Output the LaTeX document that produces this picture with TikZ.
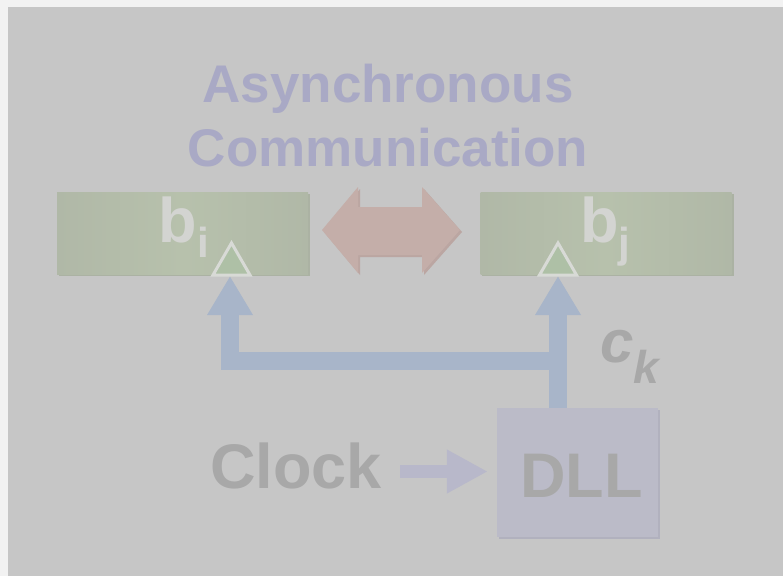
\documentclass[tikz,border=0pt]{standalone}
\usepackage{fontspec}
\setmainfont{Liberation Sans}
\usetikzlibrary{arrows.meta}

\definecolor{pagebg}{HTML}{F2F2F2}
\definecolor{slidebg}{HTML}{C6C6C6}
\definecolor{titlecol}{HTML}{A9A9C5}
\definecolor{boxedge}{HTML}{B0B8A7}
\definecolor{boxmid}{HTML}{B7C1AC}
\definecolor{boxshadow}{HTML}{ABB2A3}
\definecolor{blabel}{HTML}{D3D4D1}
\definecolor{trifill}{HTML}{AEC0A6}
\definecolor{triline}{HTML}{D8DAD6}
\definecolor{commcol}{HTML}{C4AEA9}
\definecolor{commshadow}{HTML}{BBA6A2}
\definecolor{clkcol}{HTML}{A8B5C9}
\definecolor{graytext}{HTML}{A8A8A8}
\definecolor{dllfill}{HTML}{BBBBC8}
\definecolor{dllshadow}{HTML}{B1B1BE}
\definecolor{feedcol}{HTML}{B8B8CA}

\tikzset{
  blockbox/.style={rectangle, inner sep=0pt, minimum width=251pt, minimum height=82pt,
    left color=boxedge, right color=boxedge, middle color=boxmid},
  titletext/.style={anchor=base, inner sep=0pt, text=titlecol,
    font=\fontsize{53}{53}\selectfont\bfseries},
  bigtext/.style={anchor=base west, inner sep=0pt, text=graytext,
    font=\fontsize{63}{63}\selectfont\bfseries},
  blocklabel/.style={anchor=base west, inner sep=0pt, text=blabel,
    font=\fontsize{63}{63}\selectfont\bfseries},
  sublabel/.style={anchor=base west, inner sep=0pt, text=blabel,
    font=\fontsize{42}{42}\selectfont\bfseries},
  marker/.style={fill=trifill, draw=triline, line width=3pt, line join=miter},
  clockline/.style={draw=clkcol, line width=18.5pt,
    -{Triangle[width=43pt,length=39pt]}},
}

\begin{document}
\begin{tikzpicture}[x=1pt, y=-1pt]
  % page and slide background
  \fill[pagebg] (0,0) rectangle (783,576);
  \fill[slidebg] (8,7) rectangle (783,576);
  \useasboundingbox (0,0) rectangle (783,576);

  % title
  \node[titletext] (title1) at (388,102) {Asynchronous};
  \node[titletext] (title2) at (388,166) {Communication};

  % the two blocks
  \fill[boxshadow] (59,194) rectangle (310,276);
  \fill[boxshadow] (482,194) rectangle (734,276);
  \node[blockbox] (bi) at (182.5,233) {};
  \node[blockbox] (bj) at (606,233) {};
  \node[blocklabel] (bilab) at (158,242) {b};
  \node[sublabel] (bisub) at (197,257) {i};
  \node[blocklabel] (bjlab) at (580,242) {b};
  \node[sublabel] (bjsub) at (618.5,257) {j};

  % asynchronous link between the blocks
  \fill[commshadow] (324,232) -- (360,189) -- (360,209) -- (424,209) -- (424,189)
    -- (462,232) -- (424,275) -- (424,257) -- (360,257) -- (360,275) -- cycle;
  \fill[commcol] (322,230) -- (358,187) -- (358,207) -- (422,207) -- (422,187)
    -- (460,230) -- (422,273) -- (422,255) -- (358,255) -- (358,273) -- cycle;

  % clock inputs of the blocks
  \coordinate (ti) at (230,276);
  \coordinate (tj) at (558,276);
  \draw[marker] (231.5,243) -- (250,275) -- (213,275) -- cycle;
  \draw[marker] (558,243) -- (576.5,275) -- (539.5,275) -- cycle;

  % DLL and its clock source
  \fill[dllshadow] (499,410) rectangle (660,539);
  \node[rectangle, inner sep=0pt, fill=dllfill, minimum width=161pt,
        minimum height=129pt] (dll) at (577.5,472.5) {};
  \node[bigtext] (dlltext) at (520,497) {DLL};
  \node[bigtext] (clock) at (210,488) {Clock};
  \coordinate (clkout) at (400,471.5);
  \draw[draw=feedcol, line width=13pt, shorten >=9pt,
        -{Triangle[width=41pt,length=41pt]}] (clkout) -- (dll.west |- clkout);

  % distributed clock c_k
  \coordinate (split) at (557.5,361);
  \draw[clockline] (split) -- (ti |- split) -- (ti);
  \draw[clockline] (dll.north -| tj) -- (tj);

  \node[anchor=base west, inner sep=0pt, text=graytext,
        font=\fontsize{60}{60}\selectfont\bfseries\itshape] (ck) at (600,362) {c};
  \node[anchor=base west, inner sep=0pt, text=graytext,
        font=\fontsize{46}{46}\selectfont\bfseries\itshape] (cksub) at (633,383) {k};
\end{tikzpicture}
\end{document}
